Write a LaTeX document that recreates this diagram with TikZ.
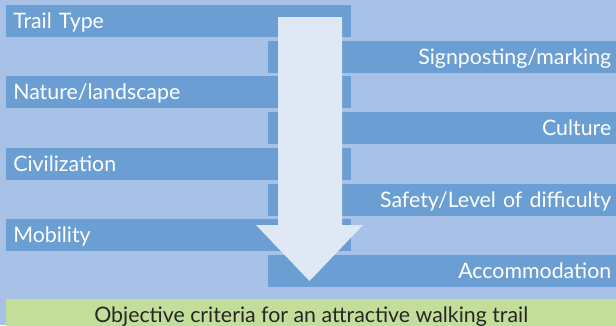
\documentclass[tikz,border=0pt]{standalone}
\usepackage{fontspec}
\setmainfont{Lato}
\usepackage{xcolor}
\usetikzlibrary{positioning}
\definecolor{pageblue}{HTML}{A8C1E6}
\definecolor{barblue}{HTML}{6B9FD4}
\definecolor{arrowfill}{HTML}{E0E8F6}
\definecolor{critgreen}{HTML}{C3DE9A}
\definecolor{critink}{HTML}{262626}

\begin{document}
\begin{tikzpicture}[x=0.75pt,y=-0.75pt,
  lbar/.style={fill=barblue,anchor=north west,minimum width=258.75pt,minimum height=24pt,
    inner xsep=5.25pt,text width=248.25pt,align=left,text height=11.2pt,text depth=0pt,
    font=\fontsize{16}{19}\selectfont,text=white},
  rbar/.style={fill=barblue,anchor=north west,minimum width=261pt,minimum height=24pt,
    inner xsep=3.75pt,text width=253.5pt,align=right,text height=11.2pt,text depth=0pt,
    font=\fontsize{16}{19}\selectfont,text=white},
  crit/.style={fill=critgreen,anchor=north west,minimum width=457.5pt,minimum height=23.25pt,
    text height=11.2pt,text depth=0pt,font=\fontsize{16}{19}\selectfont,text=critink}]
\useasboundingbox (0,0) rectangle (616,325);
\fill[pageblue] (0,0) rectangle (616,325);
% left column
\node[lbar] (trail) at (6,5) {Trail Type};
\node[lbar] (nature) at (6,76) {Nature/landscape};
\node[lbar] (civil) at (6,148) {Civilization};
\node[lbar] (mobil) at (6,219) {Mobility};
% right column
\node[rbar] (signs) at (268,41) {Signposting/marking};
\node[rbar] (cult) at (268,112) {Culture};
\node[rbar] (safety) at (268,184) {Safety/Level of difficulty};
\node[rbar] (accom) at (268,255) {Accommodation};
% big arrow down the middle
\fill[arrowfill] (278,17) -- (342,17) -- (342,225) -- (363,225) -- (309.5,281)
  -- (256,225) -- (278,225) -- cycle;
\node[crit] (goal) at (6,299) {Objective criteria for an attractive walking trail};
\end{tikzpicture}
\end{document}
